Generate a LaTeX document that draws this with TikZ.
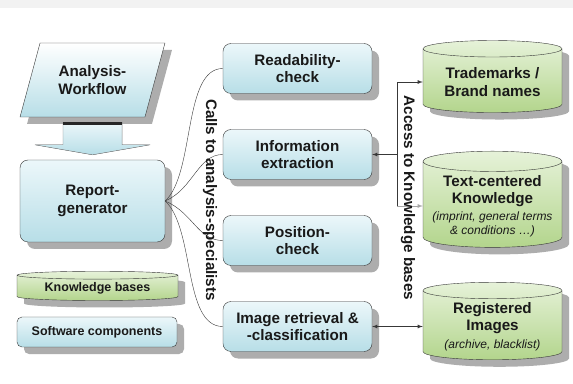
\documentclass[tikz,border=0pt]{standalone}
\usepackage{fontspec}
\setmainfont{Liberation Sans}
\usetikzlibrary{shapes.geometric,shadows,calc}
\definecolor{boxtop}{HTML}{ECF7FA}
\definecolor{boxbot}{HTML}{B7DEE7}
\definecolor{kbtop}{HTML}{E6F2D9}
\definecolor{kbbot}{HTML}{B3D58C}
\definecolor{edgegray}{HTML}{383838}
\begin{document}
\begin{tikzpicture}[
		x=1pt,y=1pt,
		lbl/.style={font=\fontsize{15.2}{17.5}\selectfont\bfseries, align=center, text=black!90},
		small/.style={font=\fontsize{12.5}{14}\selectfont\bfseries},
		shade/.style={drop shadow={shadow xshift=7pt,shadow yshift=-7pt,fill=black!32,opacity=1}},
		comp/.style={lbl, draw=edgegray, rounded corners=8pt, top color=boxtop, bottom color=boxbot, shade, minimum width=149pt, minimum height=50pt},
		kb/.style={lbl, cylinder, shape border rotate=90, aspect=0.16, draw=edgegray, top color=kbtop, bottom color=kbbot, shade, minimum width=139pt, minimum height=72pt},
		note/.style={font=\fontsize{12}{14}\selectfont\itshape}
	]
	\useasboundingbox (0,0) rectangle (573,383);
	\fill[white] (0,0) rectangle (573,383);
	\fill[gray!10] (0,375) rectangle (573,383);

	% workflow and generator
	\node[lbl, trapezium, trapezium left angle=68, trapezium right angle=112, trapezium stretches=true,
		minimum width=145pt, minimum height=74pt, draw=edgegray, top color=white, bottom color=boxbot, shade] (aw) at (92.5,303) {Analysis-\\Workflow};
	\node[comp, minimum width=145pt, minimum height=82pt] (rg) at (92.5,182) {Report-\\generator};

	\path (aw.center |- aw.south) ++(0,-5) coordinate (ftop);
	\path (rg.north) ++(0,5) coordinate (ftip);
	\filldraw[draw=gray, top color=boxtop, bottom color=boxbot] ($(ftop)+(-29.5,0)$) -- ($(ftop)+(29.5,0)$) -- ($(ftip)+(29.5,10)$)
		-- ($(ftip)+(57.5,10)$) -- (ftip) -- ($(ftip)+(-57.5,10)$) -- ($(ftip)+(-29.5,10)$) -- cycle;
	\draw[line width=2.5pt, black!85] ($(ftop)+(-29.5,-1.5)$) -- ($(ftop)+(29.5,-1.5)$);

	% legend
	\node[kb, small, minimum width=161pt, minimum height=29pt, aspect=0.07] (lkb) at (97.5,94.5) {Knowledge bases};
	\node[comp, small, minimum width=160pt, minimum height=30pt, rounded corners=5pt] (lsc) at (97,51) {Software components};

	% analysis specialists
	\node[comp] (rc) at (297.5,314.5) {Readability-\\check};
	\node[comp] (ie) at (297.5,228.5) {Information\\extraction};
	\node[comp] (pc) at (297.5,142.5) {Position-\\check};
	\node[comp] (ir) at (297.5,56.5) {Image retrieval \&\\-classification};

	% knowledge bases
	\node[kb] (tm) at (492.5,301) {Trademarks /\\Brand names};
	\node[kb, minimum height=78pt] (tc) at (492.5,177) {Text-centered\\Knowledge\\[-1pt]{\fontsize{12}{14}\selectfont\mdseries\itshape (imprint, general terms}\\[-3pt]{\fontsize{12}{14}\selectfont\mdseries\itshape \& conditions …)}};
	\node[kb, minimum height=73pt] (ri) at (492.5,56.5) {Registered\\Images\\{\fontsize{12}{14}\selectfont\mdseries\itshape (archive, blacklist)}};

	% calls
	\draw[edgegray] (rg.east) .. controls +(30,28) and +(-40,0) .. (rc.west);
	\draw[edgegray] (rg.east) .. controls +(28,12) and +(-25,0) .. (ie.west);
	\draw[edgegray] (rg.east) .. controls +(28,-12) and +(-25,0) .. (pc.west);
	\draw[edgegray] (rg.east) .. controls +(30,-28) and +(-40,0) .. (ir.west);
	\node[lbl, rotate=-90] (calls) at (210,183) {Calls to analysis-specialists};

	% access
	\coordinate (acc) at ($(ie.east)+(25,0)$);
	\draw[-latex, edgegray, thick] (acc) -- (ie.east);
	\draw[-latex, edgegray, thick] (acc) |- (tm.180);
	\draw[edgegray, thick] (acc) -- (acc |- tc.180);
	\draw[-latex, gray!70, thick] (acc |- tc.180) -- (tc.180);
	\draw[latex-latex, edgegray, thick] (ir.east) -- (ri.180);
	\node[lbl, rotate=-90] (access) at (408,185) {Access to Knowledge bases};
\end{tikzpicture}
\end{document}
